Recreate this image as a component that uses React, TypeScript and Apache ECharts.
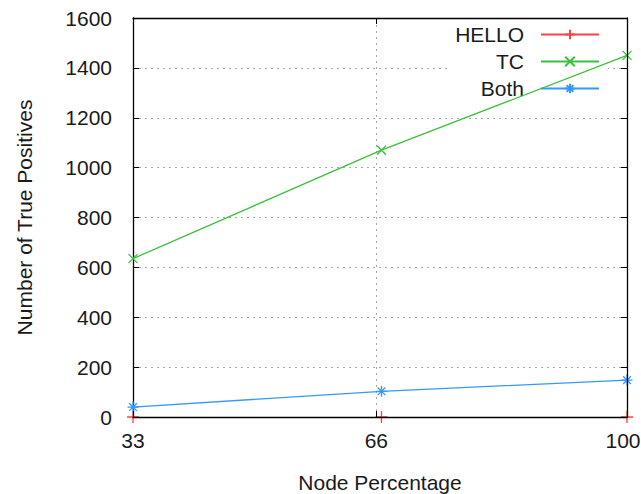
import React, { useEffect, useRef } from "react";
import * as echarts from "echarts";

const xValues = [33, 66.7, 100];
const helloValues = [0, 0, 0];
const tcValues = [635, 1070, 1450];
const bothValues = [40, 103, 148];
const xTicks = [33, 66, 100];
const seriesNames = ["HELLO", "TC", "Both"];
const colors = ["#ff4040", "#3cc03c", "#3399ff"];

const FONT = "'Liberation Sans', Arial, sans-serif";
const TXT = "#1a1a1a";
const FS = 21;

const PLUS = "path://M0,5L10,5M5,0L5,10";
const CROSS = "path://M0,0L10,10M10,0L0,10";
const STAR = "path://M0,5L10,5M5,0L5,10M1.5,1.5L8.5,8.5M8.5,1.5L1.5,8.5";

export default function App() {
  const ref = useRef<HTMLDivElement>(null);
  useEffect(() => {
    if (!ref.current) return;
    const chart = echarts.init(ref.current, undefined, { renderer: "svg" });
    const mk = (name: string, vals: number[], color: string, symbol: string, size: number, extra: any = {}) => ({
      name,
      type: "line",
      data: xValues.map((x, i) => [x, vals[i]]),
      symbol,
      symbolSize: size,
      showAllSymbol: true,
      lineStyle: { color, width: 1.3 },
      itemStyle: { color, borderColor: color, borderWidth: 1.3 },
      emphasis: { disabled: true },
      z: 2,
      ...extra,
    });
    chart.setOption({
      animation: false,
      grid: { left: 133, right: 14, top: 18, bottom: 77, containLabel: false, outerBoundsMode: "none" },
      legend: {
        data: [
          { name: seriesNames[0], lineStyle: { color: colors[0], width: 2, opacity: 1 } },
          { name: seriesNames[1], lineStyle: { color: colors[1], width: 2 } },
          { name: seriesNames[2], lineStyle: { color: colors[2], width: 2 } },
        ],
        orient: "vertical",
        align: "right",
        right: 33,
        top: 19,
        itemWidth: 58,
        itemHeight: 12,
        itemGap: 6,
        selectedMode: false,
        backgroundColor: "#ffffff",
        padding: [5, 8, 5, 5],
        z: 1,
        textStyle: { fontFamily: FONT, fontSize: FS, color: TXT, lineHeight: 20, padding: [0, 12, 0, 0] },
      },
      xAxis: [
        {
          type: "value",
          min: 33,
          max: 100,
          position: "bottom",
          z: 10,
          axisLine: { show: true, onZero: false, lineStyle: { color: "#000", width: 1.3 } },
          axisTick: { show: true, inside: true, length: 6, customValues: xTicks, lineStyle: { color: "#000" } },
          axisLabel: {
            customValues: xTicks,
            margin: 13,
            fontFamily: FONT,
            fontSize: FS,
            color: TXT,
            formatter: (v: number) => (v === xTicks[2] ? "{m|" + v + "}" : String(v)),
            rich: { m: { fontFamily: FONT, fontSize: FS, color: TXT, padding: [0, 8, 0, 0] } },
          },
          splitLine: { show: false },
          name: "Node Percentage",
          nameLocation: "middle",
          nameGap: 55,
          nameTextStyle: { fontFamily: FONT, fontSize: FS, color: TXT },
        },
        {
          type: "value",
          min: 33,
          max: 100,
          position: "top",
          z: 10,
          axisLine: { show: true, onZero: false, lineStyle: { color: "#000", width: 1.3 } },
          axisTick: { show: true, inside: true, length: 6, customValues: xTicks, lineStyle: { color: "#000" } },
          axisLabel: { show: false },
          splitLine: { show: false },
        },
      ],
      yAxis: [
        {
          type: "value",
          min: 0,
          max: 1600,
          interval: 200,
          position: "left",
          z: 0,
          axisLine: { show: true, onZero: false, lineStyle: { color: "#000", width: 1.3 } },
          axisTick: { show: true, inside: true, length: 6, lineStyle: { color: "#000" } },
          axisLabel: { margin: 21, fontFamily: FONT, fontSize: FS, color: TXT, formatter: (v: number) => String(v) },
          splitLine: { show: true, lineStyle: { color: "#a8a8a8", type: [2, 4], width: 1 } },
          name: "Number of True Positives",
          nameLocation: "middle",
          nameGap: 98,
          nameTextStyle: { fontFamily: FONT, fontSize: FS, color: TXT },
        },
        {
          type: "value",
          min: 0,
          max: 1600,
          interval: 200,
          position: "right",
          z: 10,
          axisLine: { show: true, onZero: false, lineStyle: { color: "#000", width: 1.3 } },
          axisTick: { show: true, inside: true, length: 6, lineStyle: { color: "#000" } },
          axisLabel: { show: false },
          splitLine: { show: false },
        },
      ],
      series: [
        mk("HELLO", helloValues, colors[0], PLUS, 12, {
          lineStyle: { color: colors[0], width: 1.3, opacity: 0 },
          markLine: {
            silent: true,
            symbol: "none",
            label: { show: false },
            lineStyle: { color: "#a8a8a8", type: [2, 4], width: 1, opacity: 1 },
            data: [{ xAxis: xTicks[1] }],
            z: 0,
          },
        }),
        mk("TC", tcValues, colors[1], CROSS, 9),
        mk("Both", bothValues, colors[2], STAR, 11),
      ],
    });
    return () => chart.dispose();
  }, []);
  return <div ref={ref} style={{ width: 641, height: 494, position: "absolute", left: 0, top: 0 }} />;
}
